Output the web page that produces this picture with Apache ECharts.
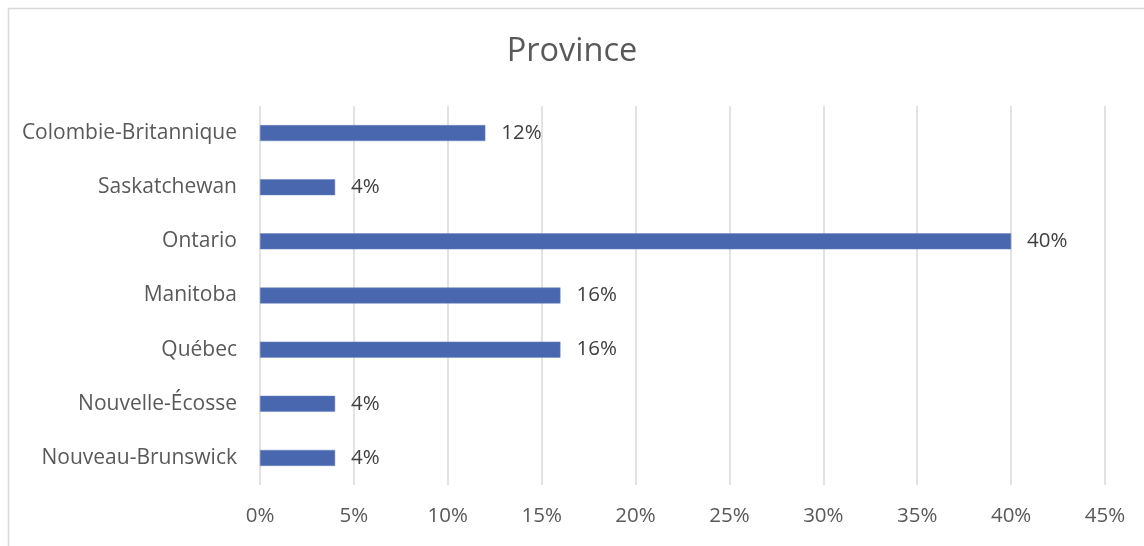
<!DOCTYPE html>
<html>
<head>
<meta charset="utf-8">
<script src="https://cdn.jsdelivr.net/npm/echarts@6/dist/echarts.min.js"></script>
<style>
html,body{margin:0;padding:0;background:#fff;}
#chart{width:1144px;height:546px;}
</style>
</head>
<body>
<div id="chart"></div>
<script>
const categories = ['Nouveau-Brunswick','Nouvelle-Écosse','Québec','Manitoba','Ontario','Saskatchewan','Colombie-Britannique'];
const values = [4, 4, 16, 16, 40, 4, 12];
const titleText = 'Province';

const chart = echarts.init(document.getElementById('chart'));
const font = '"Open Sans", sans-serif';
chart.setOption({
  animation: false,
  backgroundColor: '#fff',
  graphic: [{
    type: 'rect',
    left: 6, top: 6,
    shape: { width: 1160, height: 560 },
    style: { fill: 'none', stroke: '#d9d9d9', lineWidth: 1.5 },
    silent: true
  }],
  title: {
    text: titleText,
    left: 'center',
    top: 30,
    textStyle: { fontFamily: font, fontSize: 32.5, fontWeight: 'normal', color: '#595959' }
  },
  grid: { left: 260, right: 39, top: 106, bottom: 61, containLabel: false },
  xAxis: {
    type: 'value',
    min: 0, max: 45, interval: 5,
    axisLine: { show: false },
    axisTick: { show: false },
    splitLine: { show: true, lineStyle: { color: '#d9d9d9', width: 1.5 } },
    axisLabel: { formatter: '{value}%', fontFamily: font, fontSize: 20.5, color: '#595959', margin: 21 }
  },
  yAxis: {
    type: 'category',
    data: categories,
    axisLine: { show: false },
    axisTick: { show: false },
    axisLabel: { fontFamily: font, fontSize: 21, color: '#595959', margin: 23 }
  },
  series: [{
    type: 'bar',
    data: values,
    barWidth: 16,
    itemStyle: { color: '#4967ae', borderColor: '#6a84c0', borderWidth: 0.5 },
    label: {
      show: true,
      position: 'right',
      distance: 16,
      formatter: '{c}%',
      fontFamily: font, fontSize: 20.5, color: '#404040'
    }
  }]
});
</script>
</body>
</html>
